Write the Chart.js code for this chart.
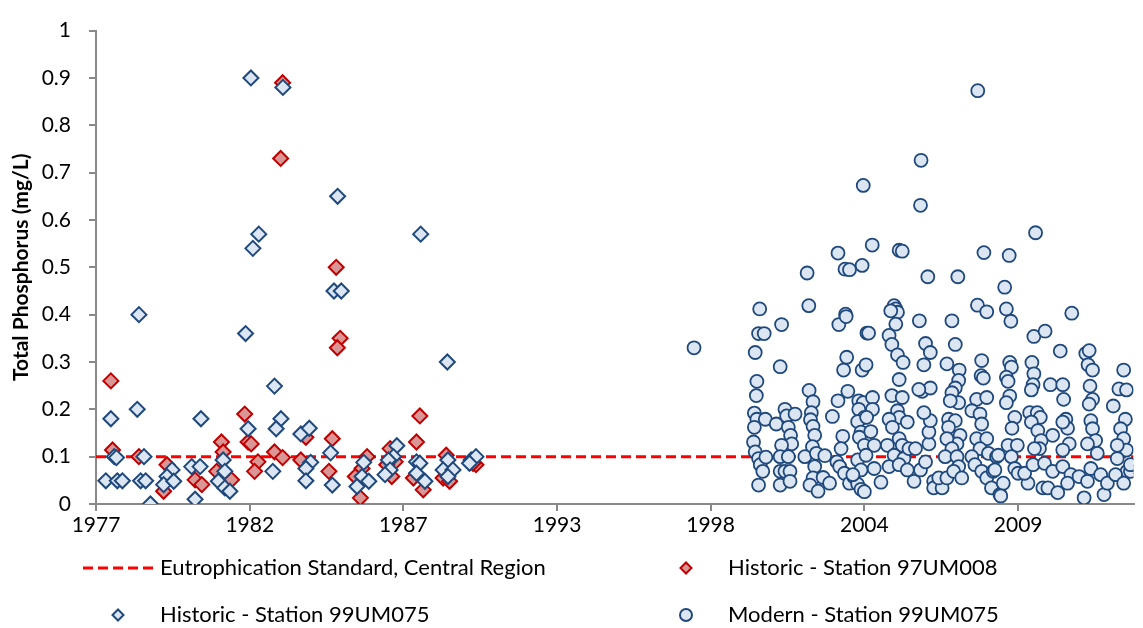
<!DOCTYPE html>
<html>
<head>
<meta charset="utf-8">
<script src="https://cdn.jsdelivr.net/npm/chart.js@4.4.1/dist/chart.umd.min.js"></script>
<style>
  html, body { margin: 0; padding: 0; background: #fff; }
  #wrap { width: 1143px; height: 628px; position: relative; }
</style>
</head>
<body>
<div id="wrap"><canvas id="tpChart"></canvas></div>
<script>
// x axis ticks (Excel date axis, major unit ~2000 days)
const tickYears = [1977, 1982.48, 1987.95, 1993.43, 1998.9, 2004.38, 2009.86];
const tickLabels = ["1977", "1982", "1987", "1993", "1998", "2004", "2009"];
const xMin = 1977;
const xMax = 2013.97;

// eutrophication standard (mg/L)
const standardValue = 0.1;

// [year, total phosphorus mg/L]
const historic97 = [
    [1977.53, 0.26], [1977.59, 0.114], [1978.53, 0.10], [1979.53, 0.083], [1979.41, 0.027],
    [1980.53, 0.051], [1980.77, 0.041], [1981.47, 0.131], [1981.53, 0.11], [1981.30, 0.069],
    [1981.83, 0.051], [1982.30, 0.19], [1982.42, 0.131], [1982.53, 0.127], [1982.77, 0.089],
    [1982.65, 0.069], [1983.36, 0.11], [1983.65, 0.89], [1983.58, 0.73], [1983.65, 0.098],
    [1984.30, 0.093], [1984.48, 0.141], [1985.42, 0.138], [1985.30, 0.069], [1985.56, 0.5],
    [1985.70, 0.35], [1985.60, 0.33], [1986.42, 0.013], [1986.66, 0.1], [1986.48, 0.075],
    [1986.24, 0.058], [1987.48, 0.117], [1987.66, 0.089], [1987.36, 0.083], [1987.54, 0.058],
    [1988.54, 0.186], [1988.42, 0.131], [1988.31, 0.055], [1988.66, 0.03], [1989.48, 0.103],
    [1989.37, 0.055], [1989.60, 0.048], [1990.54, 0.083], [1990.43, 0.086]
];

const historic99 = [
    [1982.52, 0.90], [1983.66, 0.88], [1985.61, 0.65], [1982.80, 0.57], [1982.59, 0.54],
    [1988.57, 0.57], [1985.48, 0.45], [1985.74, 0.45], [1978.53, 0.40], [1982.33, 0.36],
    [1989.52, 0.30], [1983.36, 0.249], [1977.53, 0.18], [1978.47, 0.20], [1980.74, 0.18],
    [1983.59, 0.18], [1983.42, 0.159], [1982.42, 0.159], [1977.65, 0.10], [1977.73, 0.098],
    [1978.71, 0.10], [1977.35, 0.049], [1977.76, 0.049], [1977.94, 0.049], [1978.59, 0.049],
    [1978.77, 0.049], [1978.94, 0.0], [1979.71, 0.072], [1979.53, 0.058], [1979.41, 0.041],
    [1979.77, 0.048], [1980.41, 0.079], [1980.71, 0.079], [1980.53, 0.01], [1981.53, 0.093],
    [1981.59, 0.069], [1981.36, 0.048], [1981.59, 0.034], [1981.77, 0.027], [1983.30, 0.069],
    [1984.30, 0.148], [1984.60, 0.16], [1984.65, 0.088], [1984.48, 0.075], [1984.48, 0.049],
    [1985.36, 0.108], [1985.42, 0.04], [1986.54, 0.088], [1986.48, 0.058], [1986.72, 0.048],
    [1986.30, 0.037], [1987.72, 0.123], [1987.60, 0.10], [1987.42, 0.093], [1987.48, 0.072],
    [1987.30, 0.062], [1988.42, 0.089], [1988.54, 0.086], [1988.42, 0.065], [1988.72, 0.048],
    [1989.54, 0.093], [1989.37, 0.072], [1989.72, 0.072], [1989.54, 0.058], [1990.37, 0.093],
    [1990.54, 0.10], [1990.31, 0.086]
];

const modern99 = [
    [1998.31, 0.33], [2000.65, 0.412], [2002.34, 0.488], [2002.40, 0.419], [2003.44, 0.53],
    [2003.69, 0.496], [2003.85, 0.495], [2004.30, 0.504], [2004.66, 0.547], [2004.34, 0.673],
    [2005.62, 0.536], [2005.73, 0.534], [2005.44, 0.419], [2005.50, 0.412], [2005.56, 0.405],
    [2006.40, 0.726], [2006.38, 0.631], [2006.64, 0.48], [2007.71, 0.48], [2008.42, 0.873],
    [2008.64, 0.531], [2008.41, 0.42], [2008.74, 0.406], [2009.54, 0.525], [2009.38, 0.458],
    [2009.44, 0.412], [2010.48, 0.573], [2011.77, 0.403], [2003.71, 0.401],
    [2001.43, 0.379], [2000.61, 0.36], [2000.81, 0.36], [2000.49, 0.32], [2001.38, 0.29],
    [2000.55, 0.259], [2000.53, 0.229], [2000.46, 0.192], [2000.55, 0.179], [2000.46, 0.162],
    [2000.43, 0.131], [2000.49, 0.11], [2000.61, 0.096], [2000.67, 0.083], [2000.76, 0.069],
    [2000.87, 0.099], [2000.61, 0.04], [2000.85, 0.179], [2001.24, 0.169], [2001.55, 0.2],
    [2001.61, 0.186], [2001.67, 0.162], [2001.91, 0.19], [2001.75, 0.145], [2001.79, 0.127],
    [2001.43, 0.124], [2001.38, 0.1], [2001.67, 0.1], [2001.38, 0.069], [2001.55, 0.069],
    [2001.73, 0.069], [2001.38, 0.04], [2001.73, 0.048], [2002.41, 0.24], [2002.55, 0.216],
    [2002.49, 0.193], [2002.46, 0.178], [2002.55, 0.164], [2002.61, 0.145], [2002.53, 0.121],
    [2002.26, 0.1], [2002.67, 0.107], [2002.61, 0.079], [2002.55, 0.055], [2002.44, 0.04],
    [2002.73, 0.027], [2002.91, 0.056], [2002.97, 0.102], [2003.14, 0.044], [2003.24, 0.185],
    [2003.44, 0.218], [2003.61, 0.143], [2003.55, 0.117], [2003.40, 0.089], [2003.50, 0.079],
    [2003.67, 0.065], [2003.85, 0.044], [2003.99, 0.058], [2004.14, 0.042], [2004.26, 0.031],
    [2003.79, 0.238], [2003.47, 0.379], [2003.73, 0.396], [2003.75, 0.31], [2003.64, 0.283],
    [2004.30, 0.283], [2004.44, 0.294], [2004.47, 0.361], [2004.18, 0.218], [2004.34, 0.214],
    [2004.18, 0.2], [2004.38, 0.183], [2004.14, 0.174], [2004.26, 0.152], [2004.20, 0.141],
    [2004.38, 0.124], [2004.14, 0.093], [2004.26, 0.072], [2003.97, 0.062],
    [2004.53, 0.361], [2005.32, 0.408], [2005.50, 0.38], [2005.26, 0.356], [2005.36, 0.337],
    [2005.56, 0.315], [2005.76, 0.299], [2006.34, 0.387], [2006.56, 0.339], [2006.73, 0.32],
    [2006.50, 0.294], [2005.62, 0.263], [2005.36, 0.229], [2005.73, 0.225], [2004.67, 0.225],
    [2004.67, 0.2], [2004.46, 0.183], [2004.61, 0.153], [2004.73, 0.124], [2004.44, 0.103],
    [2004.73, 0.075], [2004.97, 0.046], [2004.38, 0.026], [2005.56, 0.197], [2005.62, 0.183],
    [2005.91, 0.173], [2005.26, 0.179], [2005.38, 0.162], [2005.62, 0.138], [2005.73, 0.124],
    [2005.20, 0.124], [2005.44, 0.103], [2005.79, 0.096], [2005.97, 0.117], [2006.20, 0.117],
    [2005.26, 0.079], [2005.62, 0.083], [2005.91, 0.072], [2006.15, 0.048], [2006.38, 0.072],
    [2006.56, 0.089], [2006.68, 0.127], [2006.68, 0.152], [2006.73, 0.176], [2006.50, 0.193],
    [2006.44, 0.238], [2006.73, 0.245], [2006.32, 0.242], [2006.85, 0.048], [2006.85, 0.034],
    [2007.15, 0.034], [2007.03, 0.055], [2007.32, 0.055], [2007.50, 0.387], [2007.62, 0.337],
    [2007.32, 0.296], [2007.76, 0.283], [2007.74, 0.261], [2007.62, 0.245], [2007.50, 0.235],
    [2007.74, 0.214], [2007.44, 0.218], [2007.38, 0.179], [2007.62, 0.176], [2007.38, 0.162],
    [2007.79, 0.145], [2007.68, 0.127], [2007.32, 0.138], [2007.50, 0.117], [2007.26, 0.1],
    [2007.68, 0.1], [2007.74, 0.079], [2007.56, 0.069], [2007.85, 0.055], [2008.56, 0.303],
    [2008.54, 0.271], [2008.62, 0.266], [2008.38, 0.221], [2008.74, 0.225], [2008.21, 0.197],
    [2008.50, 0.19], [2008.56, 0.169], [2008.38, 0.138], [2008.74, 0.138], [2008.50, 0.117],
    [2008.80, 0.107], [2009.09, 0.1], [2008.21, 0.1], [2008.32, 0.083], [2008.56, 0.069],
    [2008.74, 0.055], [2008.91, 0.034], [2008.97, 0.069], [2009.21, 0.02],
    [2009.60, 0.386], [2010.42, 0.354], [2010.82, 0.365], [2011.36, 0.323], [2012.27, 0.318],
    [2012.39, 0.324], [2012.35, 0.294], [2012.51, 0.283], [2009.56, 0.299], [2009.62, 0.289],
    [2009.44, 0.268], [2009.50, 0.259], [2009.56, 0.228], [2009.44, 0.214], [2010.35, 0.299],
    [2010.42, 0.275], [2010.39, 0.252], [2010.33, 0.241], [2011.01, 0.252], [2011.45, 0.252],
    [2011.48, 0.221], [2012.42, 0.249], [2012.51, 0.221], [2012.39, 0.211], [2013.25, 0.207],
    [2013.62, 0.283], [2013.45, 0.243], [2013.72, 0.241], [2009.74, 0.183], [2009.64, 0.16],
    [2010.27, 0.193], [2010.54, 0.193], [2010.65, 0.183], [2010.33, 0.173], [2010.56, 0.155],
    [2010.68, 0.134], [2010.62, 0.117], [2010.44, 0.117], [2011.56, 0.179], [2011.62, 0.16],
    [2011.45, 0.173], [2011.09, 0.145], [2011.68, 0.127], [2011.45, 0.114], [2012.45, 0.176],
    [2012.51, 0.159], [2012.62, 0.134], [2012.68, 0.107], [2012.33, 0.127], [2013.68, 0.179],
    [2013.51, 0.159], [2013.62, 0.138], [2013.72, 0.114], [2013.39, 0.124], [2013.39, 0.096],
    [2013.74, 0.069], [2009.15, 0.103], [2009.03, 0.072], [2009.50, 0.124], [2009.83, 0.124],
    [2009.62, 0.1], [2009.74, 0.075], [2009.86, 0.065], [2009.33, 0.044], [2009.24, 0.017],
    [2010.21, 0.044], [2010.09, 0.065], [2010.39, 0.083], [2010.80, 0.086], [2010.74, 0.034],
    [2010.92, 0.034], [2011.27, 0.024], [2011.09, 0.069], [2011.45, 0.079], [2011.74, 0.062],
    [2011.62, 0.044], [2012.03, 0.058], [2012.21, 0.013], [2012.33, 0.048], [2012.45, 0.075],
    [2012.80, 0.062], [2012.92, 0.02], [2013.04, 0.044], [2013.33, 0.062], [2013.62, 0.044],
    [2013.86, 0.069], [2013.86, 0.083]
];

const BLUE_EDGE = "#1f497d";
const BLUE_FILL = "#dce6f2";
const RED_EDGE = "#c00000";
const RED_FILL = "#d99694";
const FONT = "Lato, 'Open Sans', sans-serif";

function toPoints(pairs) {
    return pairs.map(([x, y]) => ({ x: x, y: y }));
}

// 2x2 legend below the axis, drawn on the canvas
const gridLegend = {
    id: "gridLegend",
    afterDraw(chart) {
        const ctx = chart.ctx;
        const cols = [118, 686];
        const rows = [568, 615];
        ctx.save();
        ctx.font = "22px " + FONT;
        ctx.textBaseline = "middle";
        chart.data.datasets.forEach((ds, i) => {
            const cx = cols[i % 2];
            const cy = rows[Math.floor(i / 2)];
            if (ds.type === "line") {
                ctx.beginPath();
                ctx.setLineDash([10, 5]);
                ctx.strokeStyle = ds.borderColor;
                ctx.lineWidth = 3;
                ctx.moveTo(cx - 35, cy);
                ctx.lineTo(cx + 35, cy);
                ctx.stroke();
                ctx.setLineDash([]);
            } else {
                ctx.beginPath();
                if (ds.pointStyle === "circle") {
                    ctx.arc(cx, cy, 6, 0, Math.PI * 2);
                } else {
                    const r = 5.5;
                    ctx.moveTo(cx - r, cy);
                    ctx.lineTo(cx, cy - r);
                    ctx.lineTo(cx + r, cy);
                    ctx.lineTo(cx, cy + r);
                    ctx.closePath();
                }
                ctx.fillStyle = ds.backgroundColor;
                ctx.fill();
                ctx.strokeStyle = ds.borderColor;
                ctx.lineWidth = 2;
                ctx.stroke();
            }
            ctx.fillStyle = "#000";
            ctx.fillText(ds.label, cx + 42, cy);
        });
        ctx.restore();
    },
};

const ctx = document.getElementById("tpChart").getContext("2d");

new Chart(ctx, {
    type: "scatter",
    data: {
        datasets: [
            {
                type: "line",
                label: "Eutrophication Standard, Central Region",
                data: [{ x: xMin, y: standardValue }, { x: xMax, y: standardValue }],
                borderColor: "#ff0000",
                borderWidth: 3,
                borderDash: [10, 5],
                pointRadius: 0,
                fill: false,
                order: 4,
            },
            {
                label: "Historic - Station 97UM008",
                data: toPoints(historic97),
                pointStyle: "rectRot",
                pointRadius: 7.5,
                borderWidth: 2,
                borderColor: RED_EDGE,
                backgroundColor: RED_FILL,
                order: 3,
            },
            {
                label: "Historic - Station 99UM075",
                data: toPoints(historic99),
                pointStyle: "rectRot",
                pointRadius: 7.5,
                borderWidth: 2,
                borderColor: BLUE_EDGE,
                backgroundColor: BLUE_FILL,
                order: 2,
            },
            {
                label: "Modern - Station 99UM075",
                data: toPoints(modern99),
                pointStyle: "circle",
                pointRadius: 6.5,
                borderWidth: 1.8,
                borderColor: BLUE_EDGE,
                backgroundColor: BLUE_FILL,
                order: 1,
            },
        ],
    },
    options: {
        responsive: true,
        maintainAspectRatio: false,
        animation: false,
        events: [],
        layout: {
            padding: { top: 14, right: 0, left: 0, bottom: 0 },
        },
        plugins: {
            legend: { display: false },
            tooltip: { enabled: false },
        },
        scales: {
            x: {
                type: "linear",
                min: xMin,
                max: xMax,
                afterBuildTicks: (scale) => {
                    scale.ticks = tickYears.map((v) => ({ value: v }));
                },
                afterFit: (scale) => {
                    scale.height = 124;
                },
                ticks: {
                    autoSkip: false,
                    maxRotation: 0,
                    padding: 2,
                    color: "#000",
                    font: { family: FONT, size: 21 },
                    callback: (value, index) => tickLabels[index],
                },
                grid: {
                    drawOnChartArea: false,
                    drawTicks: true,
                    tickLength: 7,
                    color: "#898989",
                    lineWidth: 2,
                },
                border: { display: true, color: "#898989", width: 2 },
            },
            y: {
                min: 0,
                max: 1,
                afterFit: (scale) => {
                    scale.width = 96;
                },
                ticks: {
                    stepSize: 0.1,
                    padding: 18,
                    color: "#000",
                    font: { family: FONT, size: 21 },
                    callback: (value) => String(Number(value.toFixed(1))),
                },
                grid: {
                    drawOnChartArea: false,
                    drawTicks: true,
                    tickLength: 7,
                    color: "#898989",
                    lineWidth: 2,
                },
                border: { display: true, color: "#898989", width: 2 },
                title: {
                    display: true,
                    text: "Total Phosphorus (mg/L)",
                    color: "#000",
                    padding: { top: 9, bottom: 4 },
                    font: { family: FONT, size: 21, weight: "bold" },
                },
            },
        },
    },
    plugins: [gridLegend],
});
</script>
</body>
</html>
